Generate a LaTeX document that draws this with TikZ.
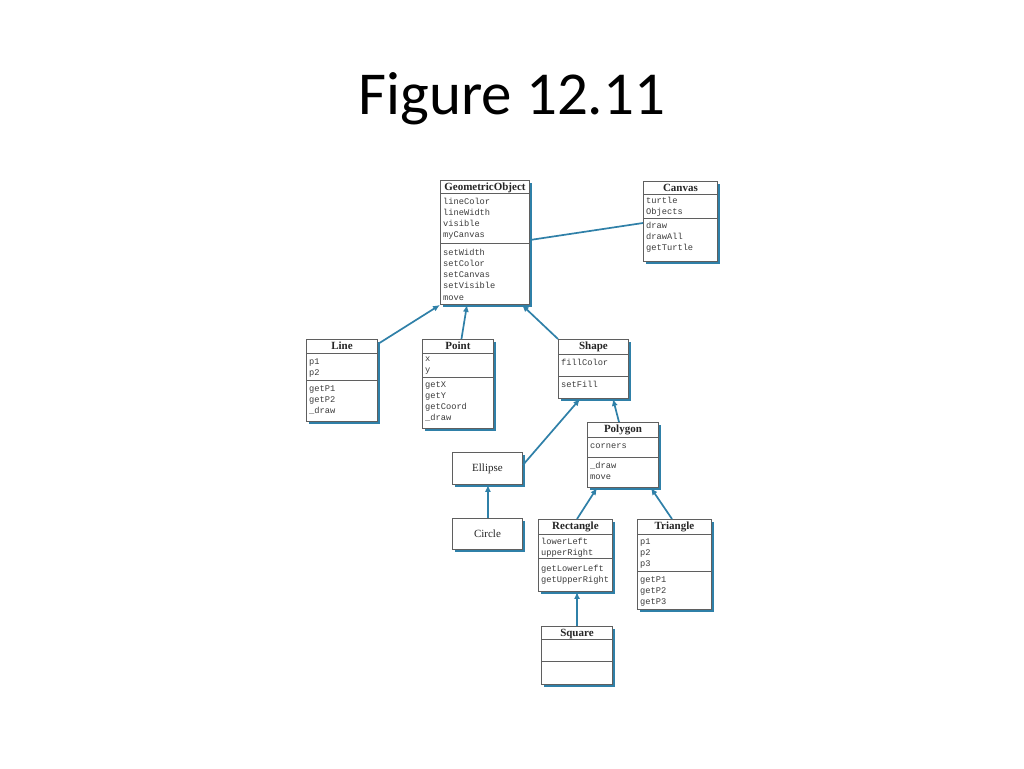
\documentclass[tikz,border=0pt]{standalone}
\usepackage{fontspec}
\setmainfont{Liberation Serif}
\setmonofont{Liberation Mono}
\newfontfamily\slidefont{Carlito}
\usetikzlibrary{calc,arrows.meta}
\definecolor{umlblue}{RGB}{47,128,168}
\definecolor{umlgray}{RGB}{95,95,95}
\definecolor{txtgray}{RGB}{60,60,60}
\tikzset{
  cbox/.style={draw=umlgray, line width=0.9pt, fill=white, inner sep=0pt, anchor=north west},
  shadowbox/.style={fill=umlblue},
  sepline/.style={draw=umlgray, line width=0.7pt},
  ctitle/.style={font=\fontsize{11}{13}\selectfont\bfseries, text=black!85, inner sep=0pt, anchor=base},
  cplain/.style={font=\fontsize{11}{13}\selectfont, text=black!85, inner sep=0pt},
  member/.style={font=\fontsize{8.7}{11.3}\ttfamily\selectfont, inner sep=0pt, anchor=base west, text=txtgray},
  inherit/.style={draw=umlblue, line width=1.7pt, -{Latex[length=7pt,width=6pt]}},
  assoc/.style={draw=umlblue, line width=1.7pt},
  slidetitle/.style={font=\slidefont\fontsize{61}{70}\selectfont, text=black, inner sep=0pt, anchor=base}
}
% #1 name, #2 left, #3 top, #4 right, #5 bottom
\newcommand\umlframe[5]{%
  \fill[shadowbox] (#2+3,#3+3) rectangle (#4+3,#5+3);
  \node[cbox, minimum width={(#4-#2)*1pt}, minimum height={(#5-#3)*1pt}] (#1) at (#2,#3) {};
}
% #1 name, #2 title
\newcommand\umltitle[2]{%
  \node[ctitle] (#1-title) at ($(#1.north)+(0,10.5)$) {#2};
}
% #1 name, #2 offset below top
\newcommand\umlsep[2]{%
  \draw[sepline] ($(#1.north west)+(0,#2)$) -- ($(#1.north east)+(0,#2)$);
}
% #1 box name, #2 node prefix, #3 first baseline below top, #4 list of lines
\newcommand\umlmembers[4]{%
  \foreach \mtext [count=\mi] in {#4}
    \node[member] (#2\mi) at ($(#1.north west)+(3,{#3+(\mi-1)*11.3})$) {\mtext};
}
\begin{document}
\begin{tikzpicture}[x=1pt,y=-1pt]
\useasboundingbox (0,0) rectangle (1024,768);
\fill[white] (0,0) rectangle (1024,768);

\node[slidetitle] (fig) at (512,114) {Figure 12.11};

% GeometricObject
\umlframe{go}{440}{180}{529}{304}
\umltitle{go}{GeometricObject}
\umlsep{go}{13}\umlsep{go}{63}
\umlmembers{go}{go-a}{24}{lineColor,lineWidth,visible,myCanvas}
\umlmembers{go}{go-m}{75}{setWidth,setColor,setCanvas,setVisible,move}

% Canvas
\umlframe{canvas}{643}{181}{717}{261}
\umltitle{canvas}{Canvas}
\umlsep{canvas}{13}\umlsep{canvas}{37}
\umlmembers{canvas}{canvas-a}{22}{turtle,Objects}
\umlmembers{canvas}{canvas-m}{47}{draw,drawAll,getTurtle}

% Line
\umlframe{line}{306}{339}{377}{421}
\umltitle{line}{Line}
\umlsep{line}{14}\umlsep{line}{41}
\umlmembers{line}{line-a}{25}{p1,p2}
\umlmembers{line}{line-m}{52}{getP1,getP2,\_draw}

% Point
\umlframe{point}{422}{339}{493}{428}
\umltitle{point}{Point}
\umlsep{point}{14}\umlsep{point}{38}
\umlmembers{point}{point-a}{22.5}{x,y}
\umlmembers{point}{point-m}{48}{getX,getY,getCoord,\_draw}

% Shape
\umlframe{shape}{558}{339}{628}{398}
\umltitle{shape}{Shape}
\umlsep{shape}{15}\umlsep{shape}{37}
\umlmembers{shape}{shape-a}{26}{fillColor}
\umlmembers{shape}{shape-m}{48}{setFill}

% Polygon
\umlframe{polygon}{587}{422}{658}{487}
\umltitle{polygon}{Polygon}
\umlsep{polygon}{15}\umlsep{polygon}{35}
\umlmembers{polygon}{polygon-a}{26}{corners}
\umlmembers{polygon}{polygon-m}{46}{\_draw,move}

% Ellipse and Circle
\umlframe{ellipse}{452}{452}{522}{484}
\node[cplain] (ellipse-t) at (ellipse.center) {Ellipse};
\umlframe{circle}{452}{518}{522}{549}
\node[cplain] (circle-t) at (circle.center) {Circle};

% Rectangle
\umlframe{rect}{538}{519}{612}{591}
\umltitle{rect}{Rectangle}
\umlsep{rect}{15}\umlsep{rect}{39}
\umlmembers{rect}{rect-a}{25}{lowerLeft,upperRight}
\umlmembers{rect}{rect-m}{52}{getLowerLeft,getUpperRight}

% Triangle
\umlframe{tri}{637}{519}{711}{609}
\umltitle{tri}{Triangle}
\umlsep{tri}{15}\umlsep{tri}{52}
\umlmembers{tri}{tri-a}{25}{p1,p2,p3}
\umlmembers{tri}{tri-m}{63}{getP1,getP2,getP3}

% Square
\umlframe{square}{541}{626}{612}{684}
\umltitle{square}{Square}
\umlsep{square}{13}\umlsep{square}{35}

% connectors
\draw[assoc] ($(go.north east)+(0,60)$) -- ($(canvas.north west)+(0,42)$);
\draw[inherit] ($(line.north east)+(0,5)$) -- (go.south west);
\draw[inherit] ($(point.north)+(3.5,0)$) -- ($(go.south west)+(27,0)$);
\draw[inherit] (shape.north west) -- ($(go.south east)+(-8,0)$);
\draw[inherit] ($(ellipse.north east)+(0,13)$) -- ($(shape.south west)+(22,0)$);
\draw[inherit] ($(polygon.north west)+(32,0)$) -- ($(shape.south west)+(55,0)$);
\draw[inherit] ($(rect.north west)+(39,0)$) -- ($(polygon.south west)+(10,0)$);
\draw[inherit] ($(tri.north west)+(35,0)$) -- ($(polygon.south east)+(-8,0)$);
\draw[inherit] ($(circle.north)+(0.5,0)$) -- ($(ellipse.south)+(0.5,0)$);
\draw[inherit] ($(square.north west)+(36,0)$) -- ($(rect.south west)+(39,0)$);
\end{tikzpicture}
\end{document}
